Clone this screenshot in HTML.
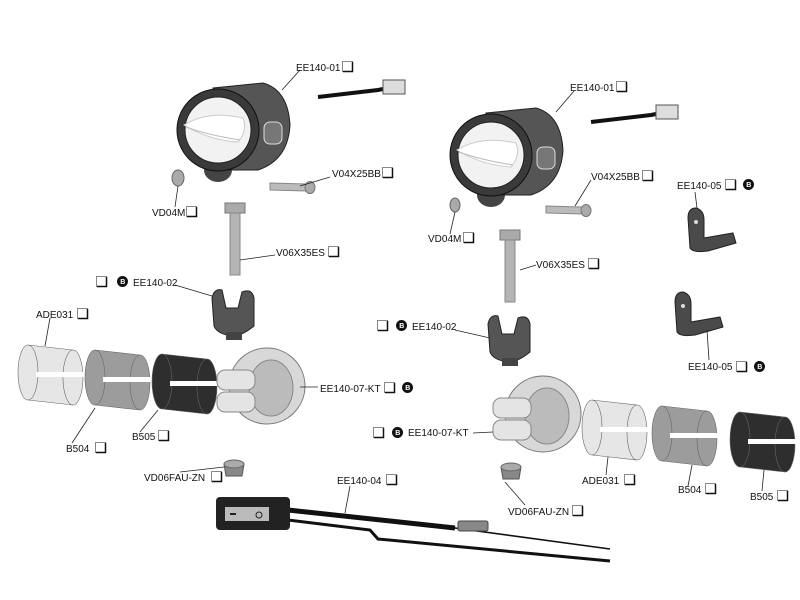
<!DOCTYPE html>
<html><head><meta charset="utf-8"><style>
html,body{margin:0;padding:0;background:#fff;}
svg{display:block;}
text{font-family:"Liberation Sans",Arial,sans-serif;font-size:10px;fill:#111;}
.b{font-size:7px;fill:#fff;font-weight:bold;}
.ln{stroke:#222;stroke-width:0.8;fill:none;}
</style></head><body>
<svg width="800" height="600" viewBox="0 0 800 600" xmlns="http://www.w3.org/2000/svg">
<defs>
<g id="box"><rect x="0.5" y="0.5" width="10" height="10" fill="#fff" stroke="#888"/><path d="M1 10.5H10.5V1" stroke="#111" stroke-width="1.5" fill="none"/></g>
<g id="badge"><circle cx="5.5" cy="5.5" r="5.5" fill="#111"/><text x="3.3" y="8" class="b">B</text></g>
<g id="lamp">
 <path d="M100 -33 L160 -40 L170 -42" stroke="#111" stroke-width="4" fill="none"/>
 <rect x="165" y="-50" width="22" height="14" fill="#ddd" stroke="#555"/>
 <ellipse cx="0" cy="40" rx="14" ry="12" fill="#444"/>
 <path d="M-5 -42 L45 -47 Q70 -40 72 -5 Q70 30 40 40 L-5 40 Z" fill="#555" stroke="#222"/>
 <circle cx="0" cy="0" r="41" fill="#3a3a3a" stroke="#111"/>
 <circle cx="0" cy="0" r="33" fill="#f2f2f2" stroke="#222"/>
 <path d="M-34 -5 Q-10 -20 25 -12 Q30 0 20 12 Q-10 10 -34 -5Z" fill="#fff" stroke="#ccc"/>
 <path d="M-32 -3 Q-10 5 22 10" stroke="#bbb" fill="none"/>
 <rect x="46" y="-8" width="18" height="22" rx="6" fill="#777" stroke="#ddd"/>
</g>
<g id="sleeve">
 <path d="M0 0 L45 5 L45 60 L0 55 Z" fill="currentColor"/>
 <ellipse cx="0" cy="27.5" rx="10" ry="27.5" fill="currentColor" stroke="#666" stroke-width="0.6"/>
 <ellipse cx="45" cy="32.5" rx="10" ry="27.5" fill="currentColor" stroke="#666" stroke-width="0.6"/>
 <path d="M0 0 L45 5 M0 55 L45 60" stroke="#666" stroke-width="0.6" fill="none"/>
 <rect x="8" y="27" width="48" height="5" fill="#fff"/>
</g>
<g id="clamp">
 <ellipse cx="50" cy="36" rx="38" ry="38" fill="#d8d8d8" stroke="#777"/>
 <ellipse cx="54" cy="38" rx="22" ry="28" fill="#bbb" stroke="#888"/>
 <rect x="0" y="20" width="38" height="20" rx="8" fill="#e4e4e4" stroke="#888"/>
 <rect x="0" y="42" width="38" height="20" rx="8" fill="#e4e4e4" stroke="#888"/>
</g>
<g id="yoke">
 <path d="M0 10 Q2 0 10 2 L14 20 L26 20 L30 4 Q40 0 42 10 L42 38 Q30 48 20 48 Q5 46 2 38Z" fill="#555" stroke="#222"/>
 <rect x="14" y="44" width="16" height="8" fill="#444"/>
</g>
<g id="bolt">
 <rect x="0" y="0" width="20" height="10" fill="#aaa" stroke="#777"/>
 <rect x="5" y="10" width="10" height="62" fill="#b4b4b4" stroke="#888"/>
</g>
<g id="pin"><path d="M0 0 L36 1 L36 8 L0 7Z" fill="#bbb" stroke="#888"/><ellipse cx="40" cy="4.5" rx="5" ry="6" fill="#aaa" stroke="#777"/></g>
<g id="nut"><path d="M0 4 L20 4 L18 16 L2 16Z" fill="#888" stroke="#555"/><ellipse cx="10" cy="4" rx="10" ry="4" fill="#aaa" stroke="#666"/></g>
<g id="brk"><path d="M0 10 Q0 0 8 0 Q16 2 16 12 L16 30 L45 25 L48 35 L20 43 Q5 45 2 40Z" fill="#4a4a4a" stroke="#222"/><circle cx="8" cy="14" r="2" fill="#ddd"/></g>
</defs>

<g transform="translate(218,130)"><use href="#lamp"/></g>
<g transform="translate(491,155)"><use href="#lamp"/></g>
<ellipse cx="178" cy="178" rx="6" ry="8" fill="#aaa" stroke="#666"/>
<ellipse cx="455" cy="205" rx="5" ry="7" fill="#aaa" stroke="#666"/>
<g transform="translate(270,183)"><use href="#pin"/></g>
<g transform="translate(546,206)"><use href="#pin"/></g>
<g transform="translate(225,203)"><use href="#bolt"/></g>
<g transform="translate(500,230)"><use href="#bolt"/></g>
<g transform="translate(212,288)"><use href="#yoke"/></g>
<g transform="translate(488,314)"><use href="#yoke"/></g>
<g transform="translate(28,345)" color="#e6e6e6"><use href="#sleeve"/></g>
<g transform="translate(95,350)" color="#9c9c9c"><use href="#sleeve"/></g>
<g transform="translate(162,354)" color="#2e2e2e"><use href="#sleeve"/></g>
<g transform="translate(217,350)"><use href="#clamp"/></g>
<g transform="translate(493,378)"><use href="#clamp"/></g>
<g transform="translate(592,400)" color="#e6e6e6"><use href="#sleeve"/></g>
<g transform="translate(662,406)" color="#9c9c9c"><use href="#sleeve"/></g>
<g transform="translate(740,412)" color="#2e2e2e"><use href="#sleeve"/></g>
<g transform="translate(224,460)"><use href="#nut"/></g>
<g transform="translate(501,463)"><use href="#nut"/></g>
<g transform="translate(688,208)"><use href="#brk"/></g>
<g transform="translate(675,292)"><use href="#brk"/></g>

<!-- wiring -->
<path d="M288 510 L455 528" stroke="#111" stroke-width="5" fill="none"/>
<path d="M455 528 L610 549" stroke="#111" stroke-width="1.5" fill="none"/>
<path d="M288 520 L370 530 L378 539 L610 561" stroke="#111" stroke-width="3" fill="none"/>
<rect x="458" y="521" width="30" height="10" rx="2" fill="#888" stroke="#444"/>
<rect x="216" y="497" width="74" height="33" rx="4" fill="#222"/>
<rect x="225" y="507" width="44" height="14" fill="#bbb"/>
<rect x="230" y="513" width="6" height="2" fill="#222"/>
<circle cx="259" cy="515" r="3" fill="none" stroke="#222"/>

<g class="ln">
<path d="M300 70 L282 90"/><path d="M330 177 L300 186"/><path d="M175 207 L178 186"/>
<path d="M275 255 L240 260"/><path d="M175 285 L212 296"/><path d="M50 318 L45 346"/>
<path d="M318 387 L300 387"/><path d="M72 443 L95 408"/><path d="M140 432 L158 410"/>
<path d="M180 472 L224 467"/><path d="M350 486 L345 513"/>
<path d="M574 91 L556 112"/><path d="M591 180 L575 206"/><path d="M450 234 L455 212"/>
<path d="M536 265 L520 270"/><path d="M455 330 L490 338"/><path d="M695 192 L697 208"/>
<path d="M709 360 L707 330"/><path d="M473 433 L493 432"/><path d="M606 475 L608 457"/>
<path d="M688 486 L692 465"/><path d="M762 491 L764 470"/><path d="M525 505 L505 482"/>
</g>

<text x="296" y="71">EE140-01</text><use href="#box" x="342" y="61"/>
<text x="332" y="177">V04X25BB</text><use href="#box" x="382" y="167"/>
<text x="152" y="216">VD04M</text><use href="#box" x="186" y="206"/>
<text x="276" y="256">V06X35ES</text><use href="#box" x="328" y="246"/>
<use href="#box" x="96" y="276"/><use href="#badge" x="117" y="276"/><text x="133" y="286">EE140-02</text>
<text x="36" y="318">ADE031</text><use href="#box" x="77" y="308"/>
<text x="320" y="392">EE140-07-KT</text><use href="#box" x="384" y="382"/><use href="#badge" x="402" y="382"/>
<text x="66" y="452">B504</text><use href="#box" x="95" y="442"/>
<text x="132" y="440">B505</text><use href="#box" x="158" y="430"/>
<text x="144" y="481">VD06FAU-ZN</text><use href="#box" x="211" y="471"/>
<text x="337" y="484">EE140-04</text><use href="#box" x="386" y="474"/>

<text x="570" y="91">EE140-01</text><use href="#box" x="616" y="81"/>
<text x="591" y="180">V04X25BB</text><use href="#box" x="642" y="170"/>
<text x="428" y="242">VD04M</text><use href="#box" x="463" y="232"/>
<text x="536" y="268">V06X35ES</text><use href="#box" x="588" y="258"/>
<text x="677" y="189">EE140-05</text><use href="#box" x="725" y="179"/><use href="#badge" x="743" y="179"/>
<text x="688" y="370">EE140-05</text><use href="#box" x="736" y="361"/><use href="#badge" x="754" y="361"/>
<use href="#box" x="377" y="320"/><use href="#badge" x="396" y="320"/><text x="412" y="330">EE140-02</text>
<use href="#box" x="373" y="427"/><use href="#badge" x="392" y="427"/><text x="408" y="436">EE140-07-KT</text>
<text x="582" y="484">ADE031</text><use href="#box" x="624" y="474"/>
<text x="678" y="493">B504</text><use href="#box" x="705" y="483"/>
<text x="750" y="500">B505</text><use href="#box" x="777" y="490"/>
<text x="508" y="515">VD06FAU-ZN</text><use href="#box" x="572" y="505"/>
</svg>
</body></html>
